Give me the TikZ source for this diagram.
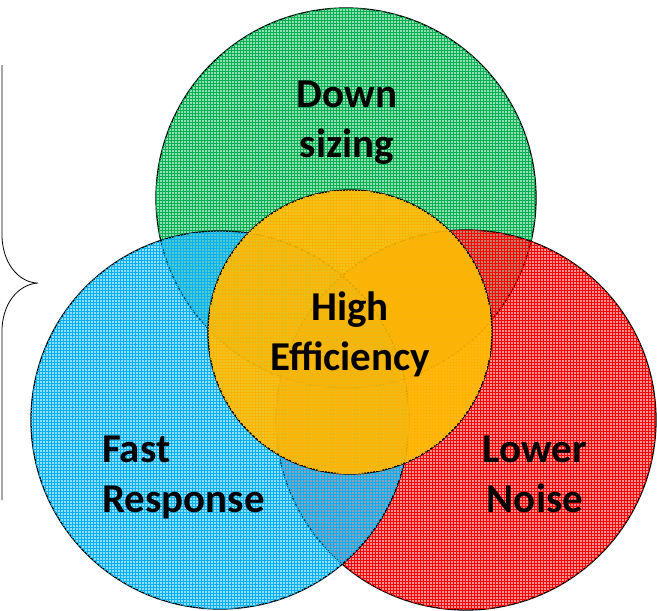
\documentclass[tikz,border=0pt]{standalone}
\usepackage{fontspec}
\setmainfont{Carlito}
\usepackage{tikz}
\usetikzlibrary{patterns}
\definecolor{sizegreen}{RGB}{0,176,80}
\definecolor{speedblue}{RGB}{0,176,240}
\definecolor{noisered}{RGB}{255,0,0}
\definecolor{effgold}{RGB}{255,192,0}

\begin{document}
\begin{tikzpicture}[x=1pt, y=-1pt,
    venn/.style={fill=#1, fill opacity=0.42, draw=black, line width=1.3pt,
        postaction={pattern=grid, pattern color=#1, fill opacity=0.4}},
    core/.style={fill=#1, fill opacity=0.85, draw=black, line width=1.3pt,
        postaction={pattern=grid, pattern color=#1!80!orange, fill opacity=0.3}},
    goal/.style={font=\bfseries\fontsize{41}{50}\selectfont, align=center, anchor=base, inner sep=0pt}]
    \useasboundingbox (0,0) rectangle (657,611);

    \coordinate (G) at (346,198);
    \coordinate (B) at (220,420);
    \coordinate (R) at (466,420);
    \coordinate (Y) at (350,332);

    % Circles
    \path[venn=sizegreen] (G) circle (190);
    \path[venn=noisered] (R) circle (190);
    \path[venn=speedblue] (B) circle (189);
    \path[core=effgold] (Y) circle (142);

    % Brace
    \draw[line width=0.8pt] (2,65) -- (2,238) .. controls (4,268) and (22,283) .. (38,283)
        .. controls (22,284) and (4,298) .. (2,328) -- (2,500);

    % Labels (anchored at the baseline of the last line)
    \node[goal] (down) at (347,157) {Down\\sizing};
    \node[goal] (high) at (350,370) {High\\Efficiency};
    \node[goal, align=left, anchor=base west] (fast) at (102,512) {Fast\\Response};
    \node[goal] (lower) at (535,512) {Lower\\Noise};
\end{tikzpicture}
\end{document}
